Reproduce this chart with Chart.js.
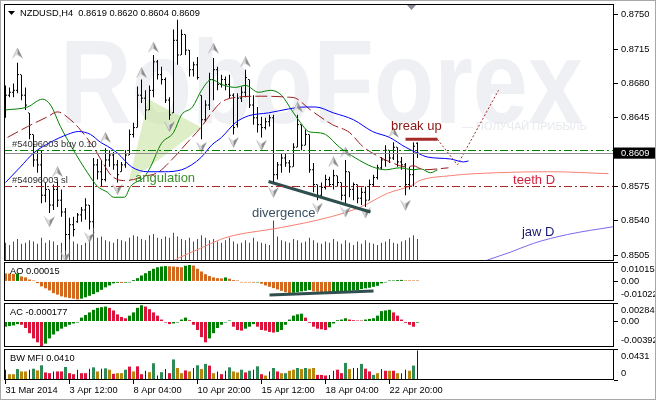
<!DOCTYPE html>
<html><head><meta charset="utf-8">
<script src="https://cdn.jsdelivr.net/npm/chart.js@4.4.1/dist/chart.umd.min.js"></script>
<style>
html,body{margin:0;padding:0;background:#fff;}
#wrap{position:relative;width:656px;height:400px;overflow:hidden;background:#fff;}
#wrap canvas{position:absolute;left:0;}
#edge{position:absolute;left:0;top:0;width:654px;height:398px;border:1px solid #a8a8a8;pointer-events:none;}
</style></head><body>
<div id="wrap">
<canvas id="cMain" width="656" height="262" style="top:0;width:656px;height:262px"></canvas>
<canvas id="cAO" width="656" height="39" style="top:262px;width:656px;height:39px"></canvas>
<canvas id="cAC" width="656" height="44" style="top:303px;width:656px;height:44px"></canvas>
<canvas id="cMFI" width="656" height="51" style="top:349px;width:656px;height:51px"></canvas>
<div id="edge"></div>
</div>
<script>
// ---------------- DATA ----------------
const symbol = 'NZDUSD', timeframe = 'H4';
const opens = [0.8653,0.8668,0.8671,0.8673,0.8689,0.8668,0.8650,0.8628,0.8602,0.8597,
0.8566,0.8572,0.8556,0.8572,0.8561,0.8549,0.8526,0.8536,0.8539,0.8546,
0.8551,0.8556,0.8539,0.8597,0.8590,0.8582,0.8602,0.8607,0.8597,0.8590,
0.8597,0.8607,0.8628,0.8635,0.8668,0.8665,0.8653,0.8673,0.8702,0.8689,
0.8684,0.8663,0.8650,0.8724,0.8709,0.8730,0.8714,0.8694,0.8699,0.8668,
0.8643,0.8658,0.8684,0.8694,0.8679,0.8684,0.8679,0.8668,0.8638,0.8665,
0.8671,0.8684,0.8658,0.8645,0.8638,0.8635,0.8641,0.8645,0.8587,0.8597,
0.8604,0.8599,0.8595,0.8615,0.8638,0.8617,0.8628,0.8592,0.8577,0.8566,
0.8574,0.8582,0.8577,0.8586,0.8579,0.8566,0.8590,0.8572,0.8577,0.8563,
0.8569,0.8561,0.8577,0.8584,0.8594,0.8602,0.8612,0.8604,0.8615,0.8600,
0.8597,0.8577,0.8587,0.8619];
const highs = [0.8678,0.8676,0.8680,0.8701,0.8689,0.8676,0.8650,0.8628,0.8612,0.8612,
0.8579,0.8572,0.8577,0.8582,0.8572,0.8553,0.8543,0.8544,0.8548,0.8554,
0.8563,0.8556,0.8604,0.8603,0.8602,0.8614,0.8612,0.8610,0.8602,0.8600,
0.8612,0.8633,0.8640,0.8677,0.8684,0.8673,0.8678,0.8709,0.8704,0.8697,
0.8686,0.8666,0.8735,0.8745,0.8735,0.8730,0.8714,0.8702,0.8707,0.8668,
0.8663,0.8691,0.8706,0.8697,0.8689,0.8687,0.8689,0.8670,0.8670,0.8677,
0.8694,0.8684,0.8668,0.8656,0.8646,0.8645,0.8648,0.8648,0.8600,0.8609,
0.8609,0.8602,0.8619,0.8648,0.8638,0.8633,0.8628,0.8599,0.8577,0.8579,
0.8587,0.8585,0.8592,0.8586,0.8579,0.8602,0.8590,0.8579,0.8577,0.8574,
0.8575,0.8582,0.8587,0.8597,0.8605,0.8617,0.8612,0.8620,0.8615,0.8605,
0.8599,0.8595,0.8620,0.8620];
const lows = [0.8645,0.8666,0.8666,0.8670,0.8663,0.8653,0.8623,0.8595,0.8589,0.8558,
0.8559,0.8548,0.8551,0.8554,0.8544,0.8510,0.8521,0.8524,0.8538,0.8539,
0.8541,0.8531,0.8533,0.8582,0.8575,0.8580,0.8595,0.8592,0.8579,0.8590,
0.8594,0.8607,0.8625,0.8635,0.8660,0.8643,0.8653,0.8666,0.8684,0.8679,
0.8660,0.8643,0.8650,0.8699,0.8709,0.8709,0.8687,0.8687,0.8684,0.8623,
0.8641,0.8653,0.8663,0.8673,0.8676,0.8673,0.8665,0.8628,0.8635,0.8661,
0.8666,0.8655,0.8638,0.8630,0.8625,0.8633,0.8636,0.8579,0.8582,0.8589,
0.8595,0.8589,0.8595,0.8615,0.8612,0.8617,0.8589,0.8569,0.8561,0.8564,
0.8572,0.8575,0.8572,0.8575,0.8561,0.8556,0.8564,0.8561,0.8558,0.8556,
0.8554,0.8561,0.8575,0.8582,0.8592,0.8595,0.8599,0.8602,0.8595,0.8592,
0.8566,0.8572,0.8575,0.8604];
const closes = [0.8668,0.8671,0.8673,0.8689,0.8668,0.8658,0.8628,0.8602,0.8597,0.8566,
0.8572,0.8556,0.8572,0.8561,0.8549,0.8526,0.8536,0.8531,0.8546,0.8551,
0.8556,0.8539,0.8597,0.8590,0.8582,0.8602,0.8607,0.8597,0.8587,0.8597,
0.8607,0.8628,0.8635,0.8668,0.8665,0.8653,0.8673,0.8702,0.8689,0.8684,
0.8663,0.8648,0.8724,0.8709,0.8730,0.8714,0.8694,0.8699,0.8686,0.8643,
0.8658,0.8684,0.8694,0.8679,0.8684,0.8679,0.8668,0.8635,0.8665,0.8671,
0.8686,0.8658,0.8645,0.8638,0.8635,0.8641,0.8645,0.8587,0.8597,0.8604,
0.8599,0.8595,0.8615,0.8638,0.8617,0.8628,0.8592,0.8577,0.8566,0.8574,
0.8582,0.8577,0.8586,0.8579,0.8566,0.8590,0.8572,0.8577,0.8563,0.8569,
0.8561,0.8577,0.8584,0.8594,0.8602,0.8612,0.8604,0.8615,0.8600,0.8597,
0.8577,0.8587,0.8616,0.8609];
const volumes = [1500,1300,1600,1800,1400,1500,1700,1600,1400,1900,
1500,1700,1600,1300,1500,1800,2100,1600,1400,1300,
1500,1700,2800,1900,2000,1700,1600,1500,1800,1700,
1600,1900,2100,2000,1800,1700,2100,2200,1900,1800,
2000,1900,2300,2000,1800,1700,1900,1600,1800,2100,
1900,1700,1800,1600,1500,1700,1900,1600,1400,1500,
1700,1500,1900,1600,1500,1400,1300,3300,2000,1700,
1600,1500,1800,1700,1500,1600,1900,1700,1500,1400,
1600,1500,1800,1600,1400,1700,1500,1300,1600,1400,
1700,1500,1400,1300,1500,1600,1800,1500,1400,1600,
1700,1900,2100,1800];
const aoValues = [0.0042,0.0041,0.0039,0.0042,0.0026,0.0021,0.0010,0.0005,-0.0009,-0.0026,
-0.0036,-0.0047,-0.0061,-0.0069,-0.0078,-0.0083,-0.0087,-0.0090,-0.0094,-0.0090,
-0.0083,-0.0075,-0.0066,-0.0056,-0.0044,-0.0031,-0.0021,-0.0010,-0.0007,-0.0008,
-0.0006,-0.0003,0.0007,0.0017,0.0031,0.0043,0.0055,0.0066,0.0074,0.0078,
0.0080,0.0079,0.0078,0.0076,0.0074,0.0082,0.0086,0.0083,0.0066,0.0052,
0.0038,0.0028,0.0021,0.0017,0.0016,0.0021,0.0014,0.0007,0.0002,-0.0003,
-0.0004,-0.0005,-0.0006,-0.0002,-0.0012,-0.0021,-0.0028,-0.0035,-0.0042,-0.0049,
-0.0056,-0.0061,-0.0059,-0.0056,-0.0052,-0.0049,-0.0045,-0.0052,-0.0054,-0.0056,
-0.0057,-0.0058,-0.0054,-0.0053,-0.0052,-0.0051,-0.0049,-0.0047,-0.0045,-0.0040,
-0.0036,-0.0033,-0.0028,-0.0023,-0.0010,-0.0005,0.0002,0.0005,0.0007,0.0008,
0.0003,0.0002,0.00018,0.00015];
const acValues = [-0.0008,-0.0007,-0.0006,-0.0004,-0.0005,-0.0010,-0.0018,-0.0026,-0.0032,-0.0038,
-0.0034,-0.0026,-0.0020,-0.0015,-0.0011,-0.0008,-0.0005,-0.0003,-0.0001,0.0006,
0.0010,0.0014,0.0018,0.0021,0.0022,0.0023,0.0021,0.0017,0.0011,0.0007,
0.0005,0.0009,0.0014,0.0021,0.0025,0.0023,0.0019,0.0014,0.0009,0.0003,
-0.0001,-0.0004,-0.0003,-0.0001,0.0003,0.0006,0.0002,-0.0005,-0.0013,-0.0024,
-0.0032,-0.0026,-0.0018,-0.0010,-0.0005,-0.0001,0.00005,-0.0008,-0.0013,-0.0014,
-0.0011,-0.0008,-0.0004,-0.0008,-0.0013,-0.0014,-0.0016,-0.0017,-0.0016,-0.0013,
-0.0005,0.0003,0.0009,0.0011,0.0012,0.0006,-0.0002,-0.0008,-0.0011,-0.0012,
-0.0013,-0.0009,-0.0003,0.0002,0.0003,0.0005,0.0003,0.0002,0.00015,0.0001,
0.0003,0.0004,0.0005,0.0009,0.0016,0.0017,0.0018,0.0014,0.0009,0.0003,
-0.0002,-0.0005,-0.0008,-0.000177];
const mfiValues = [0.0143,0.0081,0.0081,0.0152,0.0119,0.0119,0.0143,0.0157,0.0133,0.0205,
0.0105,0.0095,0.0119,0.0119,0.0119,0.0181,0.0095,0.0081,0.0143,0.0095,
0.0095,0.0157,0.0176,0.0119,0.0157,0.0162,0.0143,0.0086,0.0095,0.0095,
0.0143,0.0186,0.0119,0.0190,0.0081,0.0129,0.0109,0.0233,0.0062,0.0109,
0.0152,0.0095,0.0286,0.0167,0.0095,0.0133,0.0119,0.0167,0.0205,0.0152,
0.0224,0.0200,0.0095,0.0119,0.0081,0.0129,0.0176,0.0119,0.0105,0.0143,
0.0105,0.0129,0.0143,0.0190,0.0081,0.0062,0.0119,0.0167,0.0119,0.0095,
0.0095,0.0129,0.0143,0.0167,0.0152,0.0167,0.0157,0.0167,0.0071,0.0071,
0.0062,0.0071,0.0129,0.0143,0.0095,0.0238,0.0152,0.0167,0.0167,0.0224,
0.0157,0.0119,0.0071,0.0095,0.0152,0.0129,0.0129,0.0129,0.0095,0.0095,
0.0143,0.0129,0.0200,0.0410];
// BW MFI zones: G = green, F = fade, K = fake, S = squat
const mfiZones = ['K','F','F','G','F','F','K','G','F','G',
'S','S','K','S','S','G','S','S','K','S',
'S','K','G','F','K','G','F','S','F','F',
'G','S','F','S','S','K','F','G','K','G',
'K','S','G','F','F','S','F','K','G','F',
'G','S','F','K','S','K','G','F','F','G',
'S','G','K','G','S','F','K','G','S','F',
'G','F','F','G','F','G','F','F','S','S',
'S','K','K','S','S','G','F','K','K','G',
'S','S','G','F','K','S','F','S','F','K',
'K','F','G','K'];
// Alligator (H4) lines [bar index, price]
const lipsPts = [[0,0.8653],[5.5,0.8656],[9.25,0.8664],[11.25,0.8658],[13.75,0.8636],[17,0.8612],[20.5,0.8589],[23,0.8575],[25.5,0.8569],[27,0.8564],[29.75,0.8564],[31.25,0.8575],[34.75,0.8585],[36.25,0.8595],[39,0.8619],[42,0.8630],[44,0.8648],[46.75,0.8656],[49,0.8673],[51.5,0.8684],[54,0.8679],[57.5,0.8676],[60,0.8678],[63.25,0.8671],[66.25,0.8673],[69,0.8668],[71.5,0.8653],[73.75,0.8640],[75.75,0.8631],[77.5,0.8630],[80,0.8628],[83.5,0.8615],[87.5,0.8604],[91.75,0.8595],[95,0.8592],[98.5,0.8594],[102,0.8592],[103.75,0.8593],[106.25,0.8589],[108,0.8592]];
const teethPts = [[0.5,0.8625],[5.5,0.8636],[10.5,0.8646],[13,0.8651],[16.25,0.8643],[18.25,0.8635],[22,0.8615],[24.5,0.8598],[26.5,0.8586],[29.5,0.8581],[32,0.8582],[34,0.8585],[38,0.8589],[41.5,0.8602],[45.5,0.8620],[49,0.8636],[51.5,0.8650],[54,0.8661],[58,0.8666],[64,0.8667],[70.75,0.8666],[72.5,0.8665],[76.25,0.8653],[81.75,0.8638],[86,0.8630],[89.25,0.8616],[93.5,0.8605],[96.75,0.8599],[100,0.8595],[102,0.8596],[104.5,0.8592],[110.75,0.8594]];
const jawPts = [[0,0.8579],[3.75,0.8595],[7,0.8609],[11.25,0.8620],[15.5,0.8628],[18.25,0.8631],[21.25,0.8628],[23.75,0.8620],[25.5,0.8616],[28,0.8609],[31.5,0.8595],[35.5,0.8590],[39.75,0.8590],[44,0.8592],[46.5,0.8597],[49,0.8605],[51.5,0.8617],[54,0.8625],[57.5,0.8640],[60.75,0.8647],[65.75,0.8650],[70.75,0.8654],[75,0.8656],[77.5,0.8656],[82,0.8650],[87,0.8643],[91.75,0.8631],[96,0.8625],[100,0.8615],[103,0.8609],[105.5,0.8605],[111.25,0.8603],[114.5,0.8600],[115.75,0.8601]];
// Daily Alligator lines
const teethDPts = [[41,0.8497],[42.75,0.8501],[48.75,0.8512],[53.75,0.8521],[57,0.8525],[68.75,0.8533],[81.25,0.8544],[88.75,0.8554],[95.5,0.8568],[102,0.8577],[103,0.8580],[111.25,0.8586],[123,0.8589],[136.25,0.8590],[150.75,0.8588]];
const jawDPts = [[118,0.8496],[120.5,0.8500],[126.25,0.8508],[132,0.8517],[140.5,0.8526],[152,0.8534]];
// Fractals [bar index, price]
const fractalUp = [[3,0.8711],[13,0.8590],[25,0.8625],[34,0.8691],[37,0.8717],[52,0.8716],[60,0.8702],[73,0.8656],[82,0.8600],[85,0.8610],[97,0.8630]];
const fractalDown = [[11,0.8539],[15,0.8503],[21,0.8523],[28,0.8572],[41,0.8636],[49,0.8615],[57,0.8620],[64,0.8617],[67,0.8569],[78,0.8553],[85,0.8549],[90,0.8548],[100,0.8556]];
// Hand-drawn analysis objects
const angulationArea = [[30.75,0.8579],[35.75,0.8664],[49,0.8635],[30.75,0.8579]];
const divergencePrice = [[65.75,0.8580],[91.25,0.8549]];
const divergenceAO = [[66,-0.0071],[92,-0.0050]];
const breakUpLine = [[100,0.8623],[108,0.8623]];
const forecastPath = [[108,0.8623],[113,0.8597],[123.25,0.8673]];
// Order / price levels
const orderTicket = '54096003', orderLots = 0.10;
const buyPrice = 0.8612, slPrice = 0.8575, bidPrice = 0.8609;
// Axes
const priceTicks = [0.8750,0.8715,0.8680,0.8645,0.8609,0.8575,0.8540,0.8505];
const aoScale = [0.01015, 0, -0.01022];
const acScale = [0.002847, 0, -0.00392];
const mfiScale = [0.0431, 0];
const timeTickIdx = [0,16,32,48,64,80,96];
const timeLabels = ['31 Mar 2014','3 Apr 12:00','8 Apr 04:00','10 Apr 20:00','15 Apr 12:00','18 Apr 04:00','22 Apr 20:00'];

// ---------------- RENDER ----------------
const FONT = 'Liberation Sans';
Chart.defaults.font.family = FONT;
const X_MIN = -0.375, X_MAX = 152.125;
const idx = opens.map((_, i) => i);
const pts = arr => arr.map(([x, y]) => ({x, y}));
const last = opens.length - 1;

function makeArrow(up) {
  const c = document.createElement('canvas'); c.width = 11; c.height = 11;
  const g = c.getContext('2d');
  if (!up) { g.translate(0, 11); g.scale(1, -1); }
  g.beginPath(); g.moveTo(5.5, 0.5); g.lineTo(5.5, 7); g.lineTo(0.5, 10.5); g.closePath();
  g.fillStyle = '#dcdcdc'; g.fill();
  g.beginPath(); g.moveTo(5.5, 0.5); g.lineTo(10.5, 10.5); g.lineTo(5.5, 7); g.closePath();
  g.fillStyle = '#8c8c8c'; g.fill();
  g.strokeStyle = 'rgba(110,110,110,0.55)'; g.lineWidth = 0.6;
  g.beginPath(); g.moveTo(0.5, 10.5); g.lineTo(5.5, 0.5); g.lineTo(10.5, 10.5); g.stroke();
  return c;
}
const arrowUp = makeArrow(true), arrowDown = makeArrow(false);

const framePlugin = {
  id: 'frame',
  afterDraw(chart) {
    const {ctx, chartArea: a} = chart;
    ctx.save(); ctx.strokeStyle = '#000'; ctx.lineWidth = 1;
    ctx.strokeRect(a.left + 0.5, a.top + 0.5, a.right - a.left - 1, a.bottom - a.top - 1);
    ctx.restore();
  }
};
function paneLabel(text) {
  return { id: 'paneLabel', afterDraw(chart) {
    const {ctx, chartArea: a} = chart;
    ctx.save(); ctx.font = '9.3px "' + FONT + '"'; ctx.fillStyle = '#000'; ctx.textBaseline = 'middle';
    ctx.fillText(text, a.left + 6, a.top + 9.5); ctx.restore();
  }};
}
const baseOpts = { responsive: false, animation: false, events: [], devicePixelRatio: 1,
  plugins: { legend: { display: false }, tooltip: { enabled: false } } };
function hiddenX() {
  return { type: 'linear', min: X_MIN, max: X_MAX, offset: false, display: false, grid: { display: false } };
}
function subY(scaleVals, zeroText) {
  const mx = scaleVals[0], mn = scaleVals[scaleVals.length - 1];
  return { type: 'linear', position: 'right', min: mn, max: mx,
    afterFit(s) { s.width = 42; s.paddingTop = 0; s.paddingBottom = 0; },
    afterBuildTicks(s) { s.ticks = scaleVals.map(v => ({value: v})); },
    grid: { drawOnChartArea: false, tickLength: 4, color: '#000' }, border: { display: false },
    ticks: { autoSkip: false, padding: 3, color: '#000', font: { family: FONT, size: 9.3, lineHeight: 1.5 },
      callback: v => {
        const t = v === 0 ? zeroText : String(v);
        if (v === mx && v !== 0) return ['', t];
        if (v === mn) return [t, ''];
        return t;
      } } };
}
function risingColor(arr, i, up, down) { const j = i === 0 ? 1 : i; return arr[j] > arr[j - 1] ? up : down; }

// ---------- main pane ----------
const mainDecor = {
  id: 'mainDecor',
  beforeDatasetsDraw(chart) {
    const {ctx, chartArea: a} = chart;
    ctx.save();
    ctx.beginPath(); ctx.rect(a.left, a.top, a.right - a.left, a.bottom - a.top); ctx.clip();
    ctx.font = 'bold 118px "' + FONT + '"';
    const w = ctx.measureText('RoboForex').width;
    ctx.save(); ctx.translate(60, 123); ctx.scale(523 / w, 1);
    ctx.fillStyle = '#eef0f4'; ctx.fillText('RoboForex', 0, 0); ctx.restore();
    ctx.font = '11px "' + FONT + '"'; ctx.fillStyle = '#e6e9ed'; ctx.textBaseline = 'middle';
    ctx.fillText('— ПОЛУЧАЙ ПРИБЫЛЬ', 462, 127);
    ctx.restore();
  },
  afterDatasetsDraw(chart) {
    const {ctx, chartArea: a, scales: {x, y}} = chart;
    ctx.save();
    const hline = (p, color, dash) => {
      const py = Math.round(y.getPixelForValue(p)) + 0.5;
      ctx.beginPath(); ctx.setLineDash(dash); ctx.strokeStyle = color; ctx.lineWidth = 1;
      ctx.moveTo(a.left, py); ctx.lineTo(a.right, py); ctx.stroke();
    };
    hline(bidPrice, '#8c8c8c', []);
    hline(buyPrice, '#008000', [8, 3, 2, 3]);
    hline(slPrice, '#a52a2a', [8, 3, 2, 3]);
    ctx.setLineDash([]);
    ctx.font = '9.3px "' + FONT + '"'; ctx.fillStyle = '#303030'; ctx.textBaseline = 'bottom';
    ctx.fillText('#' + orderTicket + ' buy ' + orderLots.toFixed(2), a.left + 8, y.getPixelForValue(buyPrice) - 1);
    ctx.fillText('#' + orderTicket + ' sl', a.left + 8, y.getPixelForValue(slPrice) - 1);
    // title
    ctx.fillStyle = '#000';
    ctx.beginPath(); ctx.moveTo(8, 11); ctx.lineTo(15, 11); ctx.lineTo(11.5, 15); ctx.closePath(); ctx.fill();
    ctx.textBaseline = 'middle';
    const f4 = v => v.toFixed(4);
    ctx.fillText(symbol + ',' + timeframe + '  ' + f4(opens[last]) + ' ' + f4(highs[last]) + ' ' + f4(lows[last]) + ' ' + f4(closes[last]), 20, 13);
    // chart shift marker
    ctx.fillStyle = '#868b93';
    ctx.beginPath(); ctx.moveTo(407, 5); ctx.lineTo(416, 5); ctx.lineTo(411.5, 10); ctx.closePath(); ctx.fill();
    // annotation texts
    ctx.font = '13px "' + FONT + '"'; ctx.textBaseline = 'middle';
    const note = (t, i, p, c) => { ctx.fillStyle = c; ctx.fillText(t, x.getPixelForValue(i), y.getPixelForValue(p)); };
    note('angulation', 32.4, 0.8583, '#3a8f2a');
    note('divergence', 61.6, 0.8548, '#3b5063');
    note('break up', 96.4, 0.8636, '#8b1414');
    note('teeth D', 126.9, 0.8581, '#d0213f');
    note('jaw D', 129.1, 0.8528, '#1a1a6e');
    ctx.restore();
  }
};

const lineDs = (data, color, extra) => Object.assign({ type: 'line', yAxisID: 'y', data: pts(data), borderColor: color, borderWidth: 1,
  pointRadius: 0, fill: false, cubicInterpolationMode: 'monotone' }, extra || {});

new Chart(document.getElementById('cMain'), {
  type: 'scatter',
  data: { datasets: [
    { type: 'line', yAxisID: 'y', data: pts(angulationArea), fill: 'shape', backgroundColor: 'rgba(200,226,160,0.6)', borderColor: 'rgba(0,0,0,0)', borderWidth: 0, pointRadius: 0, tension: 0, order: 10 },
    { type: 'bar', yAxisID: 'yv', data: idx.map(i => ({x: i, y: volumes[i]})), backgroundColor: '#008000', barThickness: 1, grouped: false, inflateAmount: 0, order: 9 },
    lineDs(teethDPts, '#fa8072', { order: 5 }),
    lineDs(jawDPts, '#7b68ee', { order: 5 }),
    { type: 'bar', yAxisID: 'y', data: idx.map(i => ({x: i, y: [lows[i], highs[i]]})), backgroundColor: '#000', barThickness: 1, grouped: false, inflateAmount: 0, order: 4 },
    { type: 'scatter', yAxisID: 'y', data: idx.map(i => ({x: i - 0.25, y: opens[i]})), pointStyle: 'line', pointRadius: 0.5, pointBorderColor: '#000', pointBorderWidth: 1, order: 4 },
    { type: 'scatter', yAxisID: 'y', data: idx.map(i => ({x: i + 0.25, y: closes[i]})), pointStyle: 'line', pointRadius: 0.5, pointBorderColor: '#000', pointBorderWidth: 1, order: 4 },
    lineDs(jawPts, '#0000ff', { order: 3 }),
    lineDs(teethPts, '#9b1c1c', { order: 3, borderDash: [12, 4] }),
    lineDs(lipsPts, '#008000', { order: 3 }),
    { type: 'scatter', yAxisID: 'y', data: pts(fractalUp), pointStyle: arrowUp, pointRadius: 5, order: 2 },
    { type: 'scatter', yAxisID: 'y', data: pts(fractalDown), pointStyle: arrowDown, pointRadius: 5, order: 2 },
    lineDs(divergencePrice, '#2f4f4f', { order: 1, borderWidth: 3, cubicInterpolationMode: 'default', tension: 0 }),
    lineDs(breakUpLine, '#a52a2a', { order: 1, borderWidth: 3, cubicInterpolationMode: 'default', tension: 0 }),
    lineDs(forecastPath, '#a52a2a', { order: 1, borderDash: [2, 2], cubicInterpolationMode: 'default', tension: 0 })
  ]},
  options: Object.assign({}, baseOpts, {
    layout: { padding: { left: 4, top: 4, right: 0, bottom: 1 }, autoPadding: false },
    scales: {
      x: hiddenX(),
      y: { type: 'linear', position: 'right', min: 0.8499, max: 0.8761,
        afterFit(s) { s.width = 42; s.paddingTop = 0; s.paddingBottom = 0; },
        afterBuildTicks(s) { s.ticks = priceTicks.map(v => ({value: v})); },
        grid: { drawOnChartArea: false, tickLength: 4, color: '#000' }, border: { display: false },
        ticks: { autoSkip: false, padding: 3, font: { family: FONT, size: 9.3 },
          color: c => (c.tick && c.tick.value === bidPrice) ? '#fff' : '#000',
          showLabelBackdrop: c => !!(c.tick && c.tick.value === bidPrice),
          backdropColor: '#000', backdropPadding: { left: 7, right: 12, top: 0, bottom: 0 },
          callback: v => v.toFixed(4) } },
      yv: { type: 'linear', display: false, position: 'left', min: 0, max: 21000 }
    }
  }),
  plugins: [mainDecor, framePlugin]
});

// ---------- AO ----------
new Chart(document.getElementById('cAO'), {
  type: 'bar',
  data: { datasets: [
    { type: 'line', data: pts(divergenceAO), borderColor: '#2f4f4f', borderWidth: 3, pointRadius: 0, tension: 0, order: 0 },
    { type: 'bar', data: idx.map(i => ({x: i, y: aoValues[i]})), backgroundColor: c => risingColor(aoValues, c.dataIndex, '#008000', '#d2691e'),
      barThickness: 3, grouped: false, minBarLength: 1, inflateAmount: 0, order: 1 }
  ]},
  options: Object.assign({}, baseOpts, {
    layout: { padding: { left: 4, top: 0, right: 0, bottom: 0 }, autoPadding: false },
    scales: { x: hiddenX(), y: subY(aoScale, '0.00') }
  }),
  plugins: [framePlugin, paneLabel('AO ' + aoValues[last].toFixed(5))]
});

// ---------- AC ----------
new Chart(document.getElementById('cAC'), {
  type: 'bar',
  data: { datasets: [
    { data: idx.map(i => ({x: i, y: acValues[i]})), backgroundColor: c => risingColor(acValues, c.dataIndex, '#008000', '#dc143c'),
      barThickness: 3, grouped: false, minBarLength: 1, inflateAmount: 0 }
  ]},
  options: Object.assign({}, baseOpts, {
    layout: { padding: { left: 4, top: 0, right: 0, bottom: 0 }, autoPadding: false },
    scales: { x: hiddenX(), y: subY(acScale, '0.00') }
  }),
  plugins: [framePlugin, paneLabel('AC ' + acValues[last].toFixed(6))]
});

// ---------- BW MFI ----------
const zoneColor = { G: '#2e8b57', F: '#b8860b', K: '#0000ff', S: '#dc143c' };
const mfiSets = ['G', 'F', 'S', 'K'].map(z => ({
  data: idx.filter(i => mfiZones[i] === z).map(i => ({x: i, y: mfiValues[i]})),
  backgroundColor: zoneColor[z], barThickness: z === 'K' ? 1 : 3, grouped: false, inflateAmount: 0
}));
new Chart(document.getElementById('cMFI'), {
  type: 'bar',
  data: { datasets: mfiSets },
  options: Object.assign({}, baseOpts, {
    layout: { padding: { left: 4, top: 0, right: 0, bottom: 0 }, autoPadding: false },
    scales: {
      x: { type: 'linear', position: 'bottom', min: X_MIN, max: X_MAX, offset: false,
        afterFit(s) { s.height = 20; s.paddingLeft = 0; s.paddingRight = 0; },
        afterBuildTicks(s) { s.ticks = timeTickIdx.map(v => ({value: v})); },
        grid: { drawOnChartArea: false, tickLength: 4, color: '#000', offset: false }, border: { display: false },
        ticks: { autoSkip: false, maxRotation: 0, minRotation: 0, align: 'start', padding: 1, color: '#000',
          font: { family: FONT, size: 9.3 }, callback: v => timeLabels[timeTickIdx.indexOf(v)] } },
      y: subY(mfiScale, '0')
    }
  }),
  plugins: [framePlugin, paneLabel('BW MFI ' + mfiValues[last].toFixed(4))]
});
</script>
</body></html>
